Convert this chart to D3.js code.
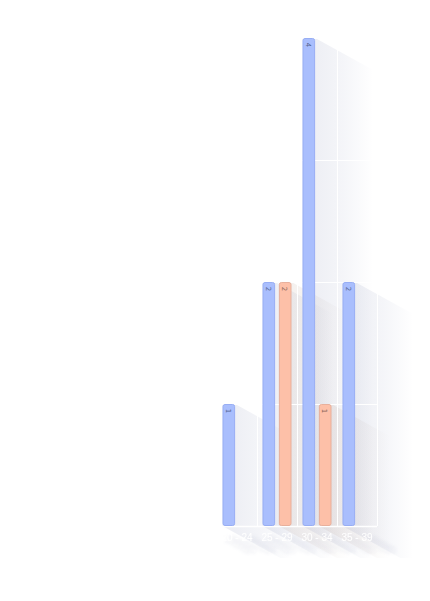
<!DOCTYPE html>
<html><head><meta charset="utf-8">
<script src="https://cdn.jsdelivr.net/npm/d3@7/dist/d3.min.js"></script>
<style>html,body{margin:0;padding:0;background:#fff;}svg{display:block;}</style>
</head><body>
<svg id="c" width="430" height="601"></svg>
<script>
const categories = ["20 - 24", "25 - 29", "30 - 34", "35 - 39"];
const seriesNames = ["A", "B"];
const seriesA = [1, 2, 4, 2];
const seriesB = [0, 2, 1, 0];
const yTicks = [0, 1, 2, 3, 4];

(function () {
const fills = ["#a9befd", "#fdc0a8"];
const strokes = ["#98aef4", "#e8b09c"];
const textCols = ["#55658f", "#8a6558"];
const shadowCols = ["#6e7aa8", "#a88a78"];

const svg = d3.select("#c");
const pLeft = 217, pRight = 377, pTop = 38, pBottom = 526;
const outer = 0.1375;
const x = d3.scaleBand().domain(categories).range([pLeft, pRight]).paddingInner(0.275).paddingOuter(outer);
const xs = d3.scaleBand().domain(seriesNames).range([0, x.bandwidth()]).paddingInner(0.23);
const y = d3.scaleLinear().domain([0, 4]).range([pBottom, pTop]);

const dx = 58, dy = 32;
const defs = svg.append("defs");

// long text shadow filter
const f = defs.append("filter").attr("id", "tsh").attr("filterUnits", "userSpaceOnUse")
  .attr("x", 200).attr("y", 520).attr("width", 230).attr("height", 70);
f.append("feGaussianBlur").attr("in", "SourceAlpha").attr("stdDeviation", 0.8).attr("result", "b");
const steps = [3, 6, 9, 12, 15, 18, 21, 24];
steps.forEach((s, i) => {
  f.append("feOffset").attr("in", "b").attr("dx", s).attr("dy", s * 0.55).attr("result", "o" + i);
});
const fm0 = f.append("feMerge").attr("result", "m");
steps.forEach((s, i) => fm0.append("feMergeNode").attr("in", "o" + i));
f.append("feFlood").attr("flood-color", "#7a82a8").attr("flood-opacity", 0.1).attr("result", "fl");
f.append("feComposite").attr("in", "fl").attr("in2", "m").attr("operator", "in").attr("result", "s");
const fm = f.append("feMerge");
fm.append("feMergeNode").attr("in", "s");
fm.append("feMergeNode").attr("in", "SourceGraphic");

const bars = [];
categories.forEach((c, i) => {
  [seriesA[i], seriesB[i]].forEach((v, s) => {
    if (v > 0) bars.push({c, s, v, x0: x(c) + xs(seriesNames[s]), w: xs.bandwidth(), y0: y(v), y1: y(0)});
  });
});

// shadows
const gS = svg.append("g");
bars.forEach((b, k) => {
  const id = "sg" + k;
  const g = defs.append("linearGradient").attr("id", id).attr("gradientUnits", "userSpaceOnUse")
    .attr("x1", b.x0 + b.w).attr("y1", 0).attr("x2", b.x0 + b.w + dx).attr("y2", 0);
  g.append("stop").attr("offset", 0).attr("stop-color", shadowCols[b.s]).attr("stop-opacity", 0.12);
  g.append("stop").attr("offset", 0.5).attr("stop-color", shadowCols[b.s]).attr("stop-opacity", 0.07);
  g.append("stop").attr("offset", 1).attr("stop-color", shadowCols[b.s]).attr("stop-opacity", 0);
  const x1 = b.x0 + b.w;
  const pts = [[b.x0, b.y0], [x1, b.y0], [x1 + dx, b.y0 + dy], [x1 + dx, b.y1 + dy], [b.x0 + dx, b.y1 + dy], [b.x0, b.y1]];
  gS.append("path").attr("d", d3.line()(pts) + "Z").attr("fill", `url(#${id})`);
});

// grid
const gG = svg.append("g").attr("stroke", "#ffffff").attr("stroke-width", 1);
yTicks.forEach(t => {
  gG.append("line").attr("x1", pLeft).attr("x2", pRight).attr("y1", Math.round(y(t)) + 0.5).attr("y2", Math.round(y(t)) + 0.5)
    .attr("stroke-width", t === 0 ? 1.5 : 1);
});
const bounds = categories.map(c => x(c) - x.step() * outer).concat([pRight]);
bounds.slice(1).forEach(bx => {
  gG.append("line").attr("x1", Math.round(bx) + 0.5).attr("x2", Math.round(bx) + 0.5).attr("y1", pTop).attr("y2", pBottom);
});

// bars
const gB = svg.append("g");
bars.forEach(b => {
  gB.append("rect").attr("x", b.x0 + 0.5).attr("y", b.y0 + 0.5).attr("width", b.w - 1).attr("height", b.y1 - b.y0 - 1)
    .attr("rx", 2).attr("fill", fills[b.s]).attr("stroke", strokes[b.s]).attr("stroke-width", 1);
  const cx = b.x0 + b.w / 2 - 0.5, cy = b.y0 + 7;
  gB.append("text").attr("transform", `translate(${cx},${cy}) rotate(90)`)
    .attr("text-anchor", "middle").attr("dy", "0.35em")
    .attr("font-family", "DejaVu Sans, sans-serif").attr("font-size", 7)
    .attr("fill", textCols[b.s]).text(b.v);
});

// x labels
const gL = svg.append("g").attr("font-family", "Liberation Sans, Arial, sans-serif").attr("font-size", 10).attr("text-anchor", "middle")
  .attr("filter", "url(#tsh)");
categories.forEach(c => {
  const cx = x(c) + x.bandwidth() / 2;
  gL.append("text").attr("x", cx).attr("y", 541).attr("fill", "#ffffff").text(c);
});
})();
</script>
</body></html>
